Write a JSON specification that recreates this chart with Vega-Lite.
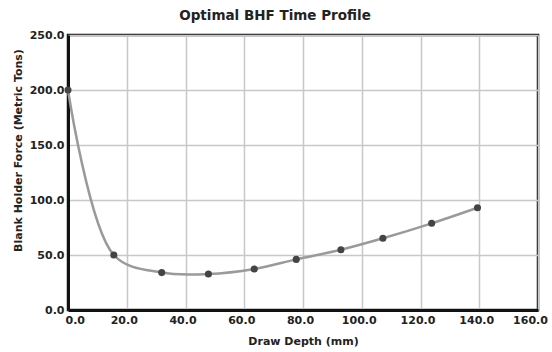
{
  "$schema": "https://vega.github.io/schema/vega-lite/v6.json",
  "width": 470,
  "height": 275,
  "autosize": "none",
  "padding": {"left": 68, "top": 35, "right": 14, "bottom": 42},
  "background": "white",
  "title": {"text": "Optimal BHF Time Profile", "font": "DejaVu Sans", "fontSize": 13.5, "fontWeight": "bold", "color": "#222", "offset": 7, "anchor": "middle", "dx": -28},
  "config": {
    "view": {"stroke": "#111", "strokeWidth": 2.5},
    "axis": {"labelFont": "DejaVu Sans", "labelFontWeight": "bold", "labelFontSize": 11, "labelColor": "#222", "titleFont": "DejaVu Sans", "titleFontWeight": "bold", "titleFontSize": 11, "titleColor": "#222", "gridColor": "#c8c8c8", "gridWidth": 1.5, "domainColor": "#111", "domainWidth": 3, "ticks": false, "labelPadding": 4}
  },
  "data": {"values": [
    {"x": 0, "y": 200},
    {"x": 15.6, "y": 50},
    {"x": 31.9, "y": 34},
    {"x": 47.8, "y": 32.7},
    {"x": 63.4, "y": 37.3},
    {"x": 77.7, "y": 46},
    {"x": 92.9, "y": 54.8},
    {"x": 107.2, "y": 65.2},
    {"x": 123.8, "y": 78.8},
    {"x": 139.4, "y": 93}
  ]},
  "encoding": {
    "x": {"field": "x", "type": "quantitative", "scale": {"domain": [0, 160], "nice": false}, "axis": {"values": [0,20,40,60,80,100,120,140,160], "format": ".1f", "title": "Draw Depth (mm)", "titlePadding": 10, "labelFlush": false, "labelAlign": {"condition": {"test": "datum.value == 0", "value": "left"}, "value": "center"}, "labelOffset": {"condition": {"test": "datum.value == 160", "value": -8}, "value": -3}}},
    "y": {"field": "y", "type": "quantitative", "scale": {"domain": [0, 250], "nice": false}, "axis": {"values": [0,50,100,150,200,250], "format": ".1f", "title": "Blank Holder Force (Metric Tons)", "titlePadding": 6, "titleY": 115, "titleAlign": "center"}}
  },
  "layer": [
    {"mark": {"type": "line", "interpolate": "catmull-rom", "color": "#9a9a9a", "strokeWidth": 2.5}},
    {"mark": {"type": "circle", "color": "#444", "size": 50, "opacity": 1}}
  ]
}
